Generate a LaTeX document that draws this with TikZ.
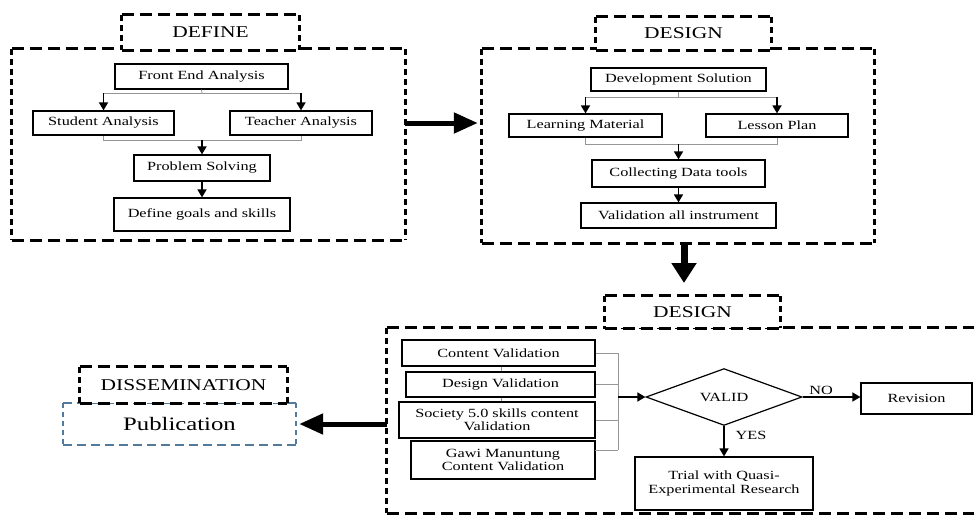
\documentclass[tikz,border=0pt]{standalone}
\usepackage{fontspec}
\setmainfont[FakeStretch=1.3]{Liberation Serif}
\usetikzlibrary{shapes.geometric,arrows.meta}
\definecolor{pubblue}{RGB}{84,122,155}
\definecolor{conngray}{RGB}{150,150,150}
\tikzset{
  box/.style={draw=black,line width=1.2pt,rectangle,inner sep=1pt,align=center,font=\fontsize{12.5}{13.5}\selectfont},
  frame/.style={rectangle,inner sep=0pt},
  lbl/.style={rectangle,inner sep=0pt,fill=white,font=\fontsize{16.5}{18}\selectfont},
  hd/.style={line width=3pt,dash pattern=on 12pt off 6pt},
  vd/.style={line width=3pt,dash pattern=on 6pt off 4pt},
  conn/.style={draw=conngray,line width=0.8pt},
  arr/.style={draw=black,line width=1.5pt,-{Triangle[length=8pt,width=9pt]}},
  bigarr/.style={draw=black,line width=5pt,-{Triangle[length=24pt,width=20pt]}},
  txt/.style={inner sep=0pt,font=\fontsize{12.5}{13.5}\selectfont}
}
\newcommand\dashframe[1]{%
  \draw[hd] (#1.north west) -- (#1.north east) (#1.south west) -- (#1.south east);
  \draw[vd] (#1.north west) -- (#1.south west) (#1.north east) -- (#1.south east);}
\begin{document}
\begin{tikzpicture}[x=1pt,y=-1pt]
\useasboundingbox (0,0) rectangle (974,514);
% ---------- DEFINE ----------
\node[frame,minimum width=393pt,minimum height=191pt] (defineBox) at (208.5,144.5) {};
\dashframe{defineBox}
\node[lbl,minimum width=177pt,minimum height=35pt] (defineLbl) at (210.5,32.5) {DEFINE};
\dashframe{defineLbl}
\node[box,minimum width=173pt,minimum height=25pt] (fea) at (201.5,76.5) {Front End Analysis};
\node[box,minimum width=141pt,minimum height=24pt] (stu) at (103.5,123) {Student Analysis};
\node[box,minimum width=142pt,minimum height=24pt] (tea) at (301,123) {Teacher Analysis};
\node[box,minimum width=136pt,minimum height=26pt] (ps) at (202,168) {Problem Solving};
\node[box,minimum width=176pt,minimum height=33pt] (dgs) at (202,214.5) {Define goals and skills};
\coordinate (j1) at (202,93);
\coordinate (j2) at (202,140);
\draw[conn] (fea.south) -- (j1);
\draw[conn] (stu.north |- j1) -- (tea.north |- j1);
\draw[arr] (stu.north |- j1) -- (stu.north);
\draw[arr] (tea.north |- j1) -- (tea.north);
\draw[conn] (stu.south) -- (stu.south |- j2) -- (tea.south |- j2) -- (tea.south);
\draw[arr] (j2) -- (ps.north);
\draw[arr] (ps.south) -- (dgs.north);
% ---------- DESIGN (top) ----------
\node[frame,minimum width=392pt,minimum height=194pt] (designBox) at (678,146) {};
\dashframe{designBox}
\node[lbl,minimum width=175pt,minimum height=33pt] (designLbl) at (683.5,33.5) {DESIGN};
\dashframe{designLbl}
\node[box,minimum width=175pt,minimum height=23pt] (dev) at (678.5,79.5) {Development Solution};
\node[box,minimum width=153pt,minimum height=23pt] (lm) at (585.5,125.5) {Learning Material};
\node[box,minimum width=142pt,minimum height=23pt] (lp) at (777,125.5) {Lesson Plan};
\node[box,minimum width=173pt,minimum height=27pt] (cdt) at (678.5,173.5) {Collecting Data tools};
\node[box,minimum width=195pt,minimum height=25pt] (vai) at (678.5,215.5) {Validation all instrument};
\coordinate (k1) at (678.5,97);
\coordinate (k2) at (678.5,144);
\draw[conn] (dev.south) -- (k1);
\draw[conn] (lm.north |- k1) -- (lp.north |- k1);
\draw[arr] (lm.north |- k1) -- (lm.north);
\draw[arr] (lp.north |- k1) -- (lp.north);
\draw[conn] (lm.south) -- (lm.south |- k2) -- (lp.south |- k2) -- (lp.south);
\draw[arr] (k2) -- (cdt.north);
\draw[arr] (cdt.south) -- (vai.north);
% big arrow define -> design
\draw[bigarr,shorten >=4pt] (defineBox.east |- stu) -- (designBox.west |- stu);
% ---------- DESIGN (bottom) ----------
\node[frame,minimum width=600pt,minimum height=185pt] (bottomBox) at (687,420.5) {};
\dashframe{bottomBox}
\node[lbl,minimum width=175pt,minimum height=32pt] (design2Lbl) at (692.5,312) {DESIGN};
\dashframe{design2Lbl}
\coordinate (downEnd) at (684,283);
\draw[draw=black,line width=7pt,-{Triangle[length=20pt,width=24pt]}] (designBox.south -| downEnd) -- (downEnd);
\node[box,minimum width=193pt,minimum height=26pt] (cv) at (498.5,353) {Content Validation};
\node[box,minimum width=189pt,minimum height=25pt] (dv) at (500.5,384.5) {Design Validation};
\node[box,minimum width=196pt,minimum height=36pt] (soc) at (497,420) {Society 5.0 skills content\\Validation};
\node[box,minimum width=184pt,minimum height=38pt] (gawi) at (503,460) {Gawi Manuntung\\Content Validation};
\coordinate (vx) at (501,0);
\draw[conn] (cv.south -| vx) -- (dv.north -| vx);
\draw[conn] (dv.south -| vx) -- (soc.north -| vx);
\coordinate (bx) at (618,397);
\coordinate (g4) at (595,450);
\draw[conn] (cv.east) -- (cv.east -| bx);
\draw[conn] (dv.east) -- (dv.east -| bx);
\draw[conn] (soc.east) -- (soc.east -| bx);
\draw[conn] (g4) -- (g4 -| bx);
\draw[conn] (cv.east -| bx) -- (g4 -| bx);
\node[diamond,draw=black,line width=1.2pt,inner sep=0pt,minimum width=156pt,minimum height=53pt,font=\fontsize{12.5}{13.5}\selectfont] (valid) at (724,397) {VALID};
\draw[arr] (bx) -- (valid.west);
\node[box,minimum width=111pt,minimum height=31pt] (rev) at (916.5,398.5) {Revision};
\node[box,minimum width=178pt,minimum height=53pt] (trial) at (724,483.5) {Trial with Quasi-\\Experimental Research};
\draw[arr] (valid.east) -- (rev.west |- valid.east);
\node[txt] (nolbl) at (821,390) {NO};
\draw[arr] (valid.south) -- (trial.north);
\node[txt] (yeslbl) at (751,435) {YES};
% ---------- DISSEMINATION ----------
\node[rectangle,minimum width=233pt,minimum height=42pt,inner sep=0pt,font=\fontsize{19}{21}\selectfont] (pub) at (179.5,424) {Publication};
\draw[pubblue,line width=2pt,dash pattern=on 9pt off 5pt] (pub.north west) -- (pub.north east) (pub.south west) -- (pub.south east);
\draw[pubblue,line width=2pt,dash pattern=on 5pt off 4pt] (pub.north west) -- (pub.south west) (pub.north east) -- (pub.south east);
\node[lbl,minimum width=207pt,minimum height=36pt] (disLbl) at (183.5,385) {DISSEMINATION};
\dashframe{disLbl}
\draw[bigarr,shorten >=3pt] (bottomBox.west |- pub.east) -- (pub.east);
\end{tikzpicture}
\end{document}
